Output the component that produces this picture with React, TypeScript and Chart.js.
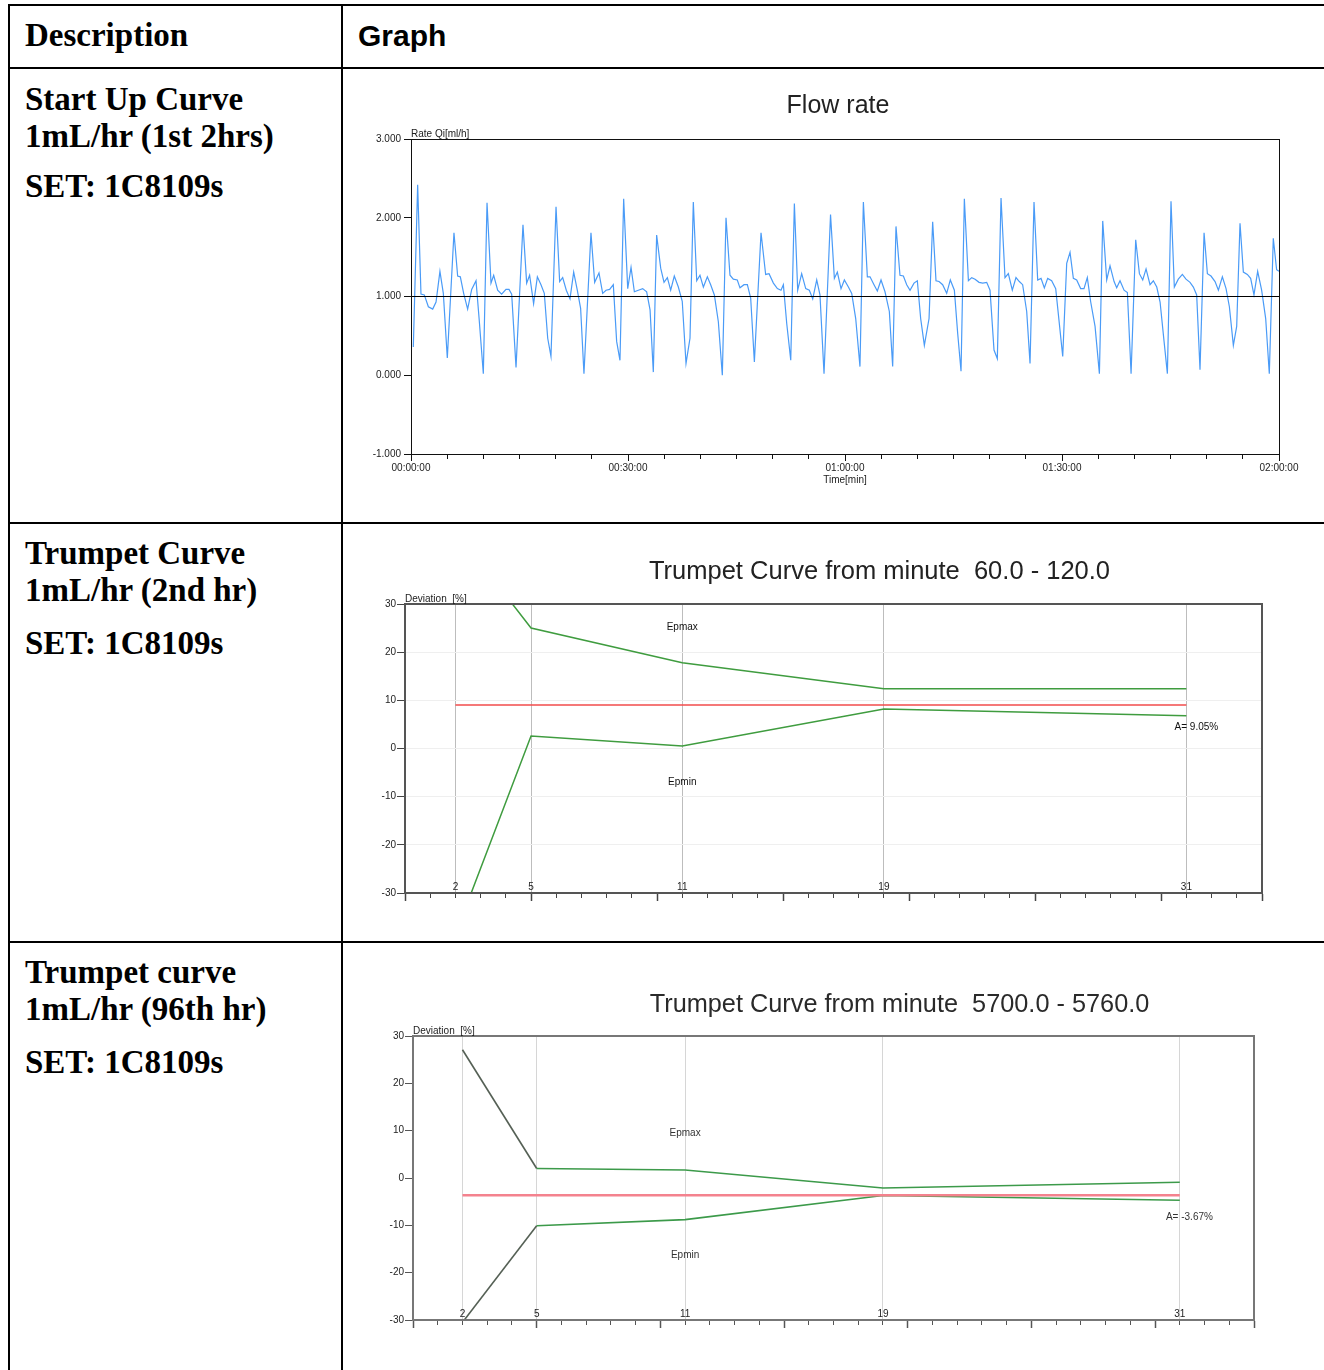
import React, { useEffect, useRef } from 'react';
import { Chart, registerables } from 'chart.js';

Chart.register(...registerables);

// ---------------- DATA ----------------
// Flow rate, first 2 hours (time in minutes, rate in ml/h)
const flowTimes = [
  0.32, 0.92, 1.38, 1.84, 2.4, 3.0, 3.46, 4.0, 4.47, 5.02, 5.94, 6.45, 6.82, 7.28, 7.83, 8.39, 8.99, 9.45,
  10.0, 10.51, 11.06, 11.43, 11.98, 12.53, 13.13, 13.55, 13.92, 14.52, 15.48, 15.99, 16.4, 16.95, 17.47, 17.97,
  18.43, 18.9, 19.35, 20.05, 20.55, 20.97, 21.47, 21.98, 22.49, 22.99, 23.45, 23.91, 24.88, 25.39, 25.99, 26.5,
  26.96, 27.46, 27.97, 28.43, 28.89, 29.4, 29.96, 30.42, 30.88, 31.43, 32.03, 32.58, 33.05, 33.5, 33.96, 34.52,
  34.98, 35.44, 35.9, 36.4, 36.96, 37.5, 38.02, 38.57, 39.03, 39.5, 39.95, 40.42, 40.97, 41.43, 41.94, 42.49,
  43.04, 43.55, 44.1, 44.56, 45.11, 45.48, 46.04, 46.5, 46.96, 47.47, 48.39, 49.03, 49.5, 50.1, 50.65, 51.15,
  51.48, 51.94, 52.5, 53.0, 53.46, 54.01, 54.57, 55.07, 55.54, 56.09, 56.54, 57.1, 58.0, 58.53, 58.94, 59.45,
  59.91, 60.47, 60.93, 61.48, 62.07, 62.54, 63.09, 63.46, 64.01, 64.47, 64.98, 65.53, 66.13, 66.59, 67.05, 67.6,
  68.07, 68.53, 68.99, 69.54, 70.0, 70.46, 70.97, 71.62, 72.12, 72.58, 73.0, 73.5, 74.06, 74.56, 75.12, 75.58,
  76.04, 76.5, 77.06, 77.52, 77.98, 78.53, 79.04, 79.59, 80.05, 80.6, 81.06, 81.57, 82.12, 82.58, 83.13, 83.64,
  84.1, 84.56, 85.12, 85.58, 86.13, 86.64, 87.1, 87.56, 88.02, 88.57, 89.13, 90.1, 90.65, 91.11, 91.57, 92.03,
  92.58, 93.04, 93.5, 93.97, 94.57, 95.17, 95.63, 96.18, 96.64, 97.2, 97.56, 98.02, 98.58, 99.04, 99.55, 100.19,
  100.7, 101.16, 101.62, 102.17, 102.63, 103.1, 103.56, 104.11, 104.57, 105.07, 105.53, 106.08, 106.64, 107.14,
  107.7, 108.16, 108.62, 109.08, 109.64, 110.1, 110.6, 111.16, 111.62, 112.17, 112.68, 113.14, 113.69, 114.15,
  114.61, 115.07, 115.62, 116.08, 116.54, 117.05, 117.6, 118.16, 118.66, 119.21, 119.67, 120.0,
];
const flowRates = [
  0.36, 2.42, 1.03, 1.02, 0.87, 0.84, 0.93, 1.32, 1.04, 0.22, 1.81, 1.26, 1.25, 1.04, 0.84, 1.09, 1.2, 0.68,
  0.02, 2.19, 1.17, 1.27, 1.08, 1.03, 1.09, 1.09, 1.03, 0.1, 1.91, 1.17, 1.27, 0.91, 1.25, 1.15,
  1.04, 0.47, 0.24, 2.14, 1.19, 1.24, 1.08, 0.97, 1.31, 1.08, 0.85, 0.02, 1.81, 1.18, 1.3, 1.04,
  1.08, 1.09, 1.15, 0.43, 0.19, 2.24, 1.1, 1.37, 1.06, 1.08, 1.1, 1.06, 0.83, 0.04, 1.78, 1.36,
  1.18, 1.24, 1.08, 1.26, 1.12, 0.94, 0.15, 0.47, 2.2, 1.2, 1.27, 1.12, 1.25, 1.15, 1.02, 0.68,
  0.0, 2.0, 1.27, 1.22, 1.21, 1.11, 1.15, 1.15, 0.98, 0.17, 1.81, 1.28, 1.29, 1.17, 1.1, 1.08,
  1.15, 0.66, 0.19, 2.18, 1.08, 1.29, 1.1, 1.08, 0.97, 1.21, 1.02, 0.02, 2.04, 1.23, 1.31, 1.1,
  1.21, 1.12, 1.04, 0.72, 0.11, 2.2, 1.25, 1.25, 1.15, 1.07, 1.21, 1.06, 0.81, 0.11, 1.89, 1.27,
  1.26, 1.15, 1.08, 1.17, 1.2, 0.72, 0.38, 0.72, 1.95, 1.2, 1.19, 1.15, 1.04, 1.21, 1.08, 0.53,
  0.05, 2.24, 1.2, 1.24, 1.22, 1.18, 1.17, 1.18, 1.08, 0.32, 0.21, 2.25, 1.24, 1.29, 1.08, 1.24,
  1.19, 1.15, 0.81, 0.15, 2.2, 1.21, 1.23, 1.11, 1.23, 1.2, 1.1, 0.24, 1.42, 1.56, 1.23, 1.21,
  1.1, 1.1, 1.24, 0.93, 0.62, 0.02, 1.96, 1.21, 1.39, 1.19, 1.11, 1.2, 1.08, 1.05, 0.02, 1.72,
  1.29, 1.21, 1.35, 1.15, 1.2, 1.12, 0.93, 0.43, 0.02, 2.21, 1.12, 1.22, 1.28, 1.22,
  1.18, 1.12, 1.02, 0.07, 1.81, 1.29, 1.26, 1.19, 1.08, 1.25, 1.1, 0.87, 0.38, 0.62,
  1.93, 1.31, 1.28, 1.23, 1.02, 1.32, 1.08, 0.72, 0.02, 1.74, 1.34, 1.32,
];
const setRate = 1.0;
const flowTimeTicks = [0, 30, 60, 90, 120];
const flowRateTicks = [-1, 0, 1, 2, 3];

// Trumpet curves: observation windows (min) and deviation (%)
const trumpetWindows = [2, 5, 11, 19, 31];
const trumpet1EpMax = [45.3, 25.0, 17.8, 12.4, 12.4];
const trumpet1EpMin = [-38.6, 2.6, 0.5, 8.2, 6.8];
const trumpet1Mean = 9.05;
const trumpet2EpMax = [27.1, 2.0, 1.7, -2.1, -0.9];
const trumpet2EpMin = [-30.5, -10.1, -8.8, -3.7, -4.7];
const trumpet2Mean = -3.67;
const deviationTicks = [-30, -20, -10, 0, 10, 20, 30];

// ---------------- HELPERS ----------------
const SANS = "'Liberation Sans', Arial, sans-serif";
const SERIF = "'Liberation Serif', 'Times New Roman', serif";

const hms = (m: number) => {
  const h = Math.floor(m / 60);
  const mm = Math.round(m % 60);
  const p = (n: number) => String(n).padStart(2, '0');
  return `${p(h)}:${p(mm)}:00`;
};

const overlayPlugin = {
  id: 'overlay',
  afterDraw(chart: any, _args: any, opts: any) {
    const { ctx, chartArea: a, scales } = chart;
    ctx.save();
    if (opts.frame) {
      ctx.strokeStyle = opts.frame.color;
      ctx.lineWidth = opts.frame.width;
      const o = opts.frame.width % 2 ? 0.5 : 0;
      ctx.strokeRect(Math.round(a.left) + o, Math.round(a.top) + o, Math.round(a.right - a.left), Math.round(a.bottom - a.top));
    }
    if (opts.title) {
      ctx.font = `${opts.title.size}px ${SANS}`;
      ctx.fillStyle = opts.title.color;
      ctx.textAlign = 'center';
      ctx.textBaseline = 'alphabetic';
      ctx.fillText(opts.title.text, opts.title.x, opts.title.y);
    }
    if (opts.caption) {
      ctx.font = `10px ${SANS}`;
      ctx.fillStyle = opts.caption.color;
      ctx.textAlign = 'left';
      ctx.textBaseline = 'alphabetic';
      ctx.fillText(opts.caption.text, a.left, a.top - 2);
    }
    if (opts.windowLabels) {
      ctx.font = `10px ${SANS}`;
      ctx.fillStyle = opts.windowLabels.color;
      ctx.textAlign = 'center';
      ctx.textBaseline = 'middle';
      trumpetWindows.forEach((w) => {
        ctx.fillText(String(w), scales.x.getPixelForValue(w), a.bottom - 6);
      });
    }
    (opts.notes || []).forEach((n: any) => {
      ctx.font = `10px ${SANS}`;
      ctx.fillStyle = n.color || '#111';
      ctx.textAlign = n.align || 'center';
      ctx.textBaseline = 'middle';
      ctx.fillText(n.text, scales.x.getPixelForValue(n.x), scales.y.getPixelForValue(n.y));
    });
    ctx.restore();
  },
};

function trumpetConfig(p: any) {
  const pts = (vals: number[]) => trumpetWindows.map((w, i) => ({ x: w, y: vals[i] }));
  const first = trumpetWindows[0];
  const last = trumpetWindows[trumpetWindows.length - 1];
  const seg = p.firstSegColor ? { borderColor: (c: any) => (c.p0DataIndex === 0 ? p.firstSegColor : undefined) } : undefined;
  return {
    type: 'line',
    data: {
      datasets: [
        {
          label: 'A',
          xAxisID: 'x',
          data: [{ x: first, y: p.mean }, { x: last, y: p.mean }],
          borderColor: p.red,
          borderWidth: p.redWidth,
          pointRadius: 0,
        },
        {
          label: 'Epmax',
          xAxisID: 'x',
          data: pts(p.max),
          borderColor: p.green,
          borderWidth: p.greenWidth,
          pointRadius: 0,
          segment: seg,
        },
        {
          label: 'Epmin',
          xAxisID: 'x',
          data: pts(p.min),
          borderColor: p.green,
          borderWidth: p.greenWidth,
          pointRadius: 0,
          segment: seg,
        },
      ],
    },
    options: {
      responsive: false,
      animation: false,
      events: [],
      layout: { padding: { left: 0, right: p.padRight, top: p.padTop, bottom: 0 } },
      plugins: {
        legend: { display: false },
        tooltip: { enabled: false },
        overlay: {
          frame: { color: p.frameColor, width: 2 },
          title: p.title,
          caption: { text: 'Deviation  [%]', color: '#222' },
          windowLabels: { color: '#222' },
          notes: p.notes,
        },
      },
      scales: {
        x: {
          type: 'linear',
          position: 'bottom',
          weight: 0,
          min: 0,
          max: 34,
          afterBuildTicks: (s: any) => {
            s.ticks = trumpetWindows.map((v) => ({ value: v }));
          },
          ticks: { display: false, autoSkip: false },
          grid: { drawOnChartArea: true, drawTicks: false, color: p.vGrid, lineWidth: 1 },
          border: { display: false },
          afterFit: (s: any) => { s.height = 0; },
        },
        xm: {
          type: 'linear',
          position: 'bottom',
          weight: 1,
          min: 0,
          max: 34,
          ticks: { display: false, stepSize: 1, autoSkip: false },
          grid: { drawOnChartArea: false, tickLength: 5, tickColor: p.axisColor, tickWidth: 1 },
          border: { display: true, color: p.axisColor, width: 2 },
          afterFit: (s: any) => { s.height = 0; },
        },
        xM: {
          type: 'linear',
          position: 'bottom',
          weight: 2,
          min: 0,
          max: 34,
          ticks: { display: false, stepSize: 5, autoSkip: false },
          grid: { drawOnChartArea: false, tickLength: 8, tickColor: p.axisColor, tickWidth: 1.5 },
          border: { display: true, color: p.axisColor, width: 2 },
          afterFit: (s: any) => { s.height = p.xHeight; },
        },
        y: {
          min: deviationTicks[0],
          max: deviationTicks[deviationTicks.length - 1],
          afterBuildTicks: (s: any) => {
            s.ticks = deviationTicks.map((v) => ({ value: v }));
          },
          ticks: { font: { family: SANS, size: 10 }, color: '#222', padding: 1 },
          grid: { drawOnChartArea: p.hGrid !== null, color: p.hGrid || 'transparent', tickLength: 8, tickColor: p.axisColor },
          border: { display: true, color: p.axisColor, width: 2 },
          afterFit: (s: any) => { s.width = p.yWidth; },
        },
      },
    },
    plugins: [overlayPlugin],
  };
}

function flowConfig() {
  return {
    type: 'line',
    data: {
      datasets: [
        {
          label: 'Set rate',
          xAxisID: 'x',
          data: [{ x: flowTimeTicks[0], y: setRate }, { x: flowTimeTicks[flowTimeTicks.length - 1], y: setRate }],
          borderColor: '#000',
          borderWidth: 1.2,
          pointRadius: 0,
        },
        {
          label: 'Rate Qi',
          xAxisID: 'x',
          data: flowTimes.map((t, i) => ({ x: t, y: flowRates[i] })),
          borderColor: '#4a9bf7',
          borderWidth: 1.2,
          pointRadius: 0,
          tension: 0,
        },
      ],
    },
    options: {
      responsive: false,
      animation: false,
      events: [],
      layout: { padding: { left: 0, right: 45, top: 69, bottom: 0 } },
      plugins: {
        legend: { display: false },
        tooltip: { enabled: false },
        overlay: {
          frame: { color: '#111', width: 1 },
          title: { text: 'Flow rate', x: 495, y: 43, size: 25, color: '#222' },
          caption: { text: 'Rate Qi[ml/h]', color: '#222' },
        },
      },
      scales: {
        x: {
          type: 'linear',
          position: 'bottom',
          weight: 1,
          min: flowTimeTicks[0],
          max: flowTimeTicks[flowTimeTicks.length - 1],
          afterBuildTicks: (s: any) => {
            s.ticks = flowTimeTicks.map((v) => ({ value: v }));
          },
          ticks: { autoSkip: false, maxRotation: 0, font: { family: SANS, size: 10 }, color: '#222', padding: 1, callback: (v: any) => hms(Number(v)) },
          grid: { drawOnChartArea: false, tickLength: 7, tickColor: '#111' },
          border: { display: true, color: '#111' },
          title: { display: true, text: 'Time[min]', font: { family: SANS, size: 10 }, color: '#222', padding: { top: 0, bottom: 36 } },
          afterFit: (s: any) => { s.height = 68; },
        },
        xm: {
          type: 'linear',
          position: 'bottom',
          weight: 0,
          min: 0,
          max: 120,
          ticks: { display: false, stepSize: 5, autoSkip: false },
          grid: { drawOnChartArea: false, tickLength: 5, tickColor: '#111' },
          border: { display: true, color: '#111' },
          afterFit: (s: any) => { s.height = 0; },
        },
        y: {
          min: flowRateTicks[0],
          max: flowRateTicks[flowRateTicks.length - 1],
          afterBuildTicks: (s: any) => {
            s.ticks = flowRateTicks.map((v) => ({ value: v }));
          },
          ticks: { font: { family: SANS, size: 10 }, color: '#222', padding: 3, callback: (v: any) => Number(v).toFixed(3) },
          grid: { drawOnChartArea: false, tickLength: 7, tickColor: '#111' },
          border: { display: true, color: '#111' },
          afterFit: (s: any) => { s.width = 68; },
        },
      },
    },
    plugins: [overlayPlugin],
  };
}

function ChartBox({ left, top, width, height, build }: any) {
  const ref = useRef<HTMLCanvasElement | null>(null);
  useEffect(() => {
    if (!ref.current) return;
    const chart = new Chart(ref.current, build());
    return () => chart.destroy();
  }, []);
  return (
    <canvas
      ref={ref}
      width={width}
      height={height}
      style={{ position: 'absolute', left, top, width, height, display: 'block' }}
    />
  );
}

const cellText = (text: string, top: number, key: string) => (
  <div
    key={key}
    style={{
      position: 'absolute',
      left: 25,
      top,
      fontFamily: SERIF,
      fontWeight: 'bold',
      fontSize: 33,
      lineHeight: '33px',
      color: '#000',
      whiteSpace: 'nowrap',
    }}
  >
    {text}
  </div>
);

const hLine = (top: number, key: string) => (
  <div key={key} style={{ position: 'absolute', left: 8, top, width: 1316, height: 2, background: '#000' }} />
);

export default function App() {
  return (
    <div style={{ position: 'absolute', left: 0, top: 0, width: 1324, height: 1370, overflow: 'hidden', background: '#fff' }}>
      {hLine(4, 'h0')}
      {hLine(67, 'h1')}
      {hLine(522, 'h2')}
      {hLine(941, 'h3')}
      <div style={{ position: 'absolute', left: 8, top: 4, width: 2, height: 1366, background: '#000' }} />
      <div style={{ position: 'absolute', left: 341, top: 4, width: 2, height: 1366, background: '#000' }} />

      {cellText('Description', 19, 'd0')}
      <div
        style={{
          position: 'absolute',
          left: 358,
          top: 21,
          fontFamily: SANS,
          fontWeight: 'bold',
          fontSize: 30,
          lineHeight: '30px',
          color: '#000',
        }}
      >
        Graph
      </div>

      {cellText('Start Up Curve', 83, 'r1a')}
      {cellText('1mL/hr (1st 2hrs)', 120, 'r1b')}
      {cellText('SET: 1C8109s', 170, 'r1c')}

      {cellText('Trumpet Curve', 537, 'r2a')}
      {cellText('1mL/hr (2nd hr)', 574, 'r2b')}
      {cellText('SET: 1C8109s', 627, 'r2c')}

      {cellText('Trumpet curve', 956, 'r3a')}
      {cellText('1mL/hr (96th hr)', 993, 'r3b')}
      {cellText('SET: 1C8109s', 1046, 'r3c')}

      <ChartBox left={343} top={70} width={981} height={452} build={flowConfig} />
      <ChartBox
        left={343}
        top={525}
        width={981}
        height={416}
        build={() =>
          trumpetConfig({
            max: trumpet1EpMax,
            min: trumpet1EpMin,
            mean: trumpet1Mean,
            red: '#f24b4b',
            redWidth: 1.5,
            green: '#3f9c3f',
            greenWidth: 1.5,
            padRight: 62,
            padTop: 79,
            yWidth: 62,
            xHeight: 48,
            frameColor: '#555',
            axisColor: '#444',
            vGrid: '#bdbdbd',
            hGrid: '#efefef',
            title: { text: 'Trumpet Curve from minute  60.0 - 120.0', x: 536.5, y: 54, size: 25.5, color: '#222' },
            notes: [
              { text: 'Epmax', x: 11, y: 25.2 },
              { text: 'Epmin', x: 11, y: -7.1 },
              { text: 'A= 9.05%', x: 30.53, y: 4.5, align: 'left' },
            ],
          })
        }
      />
      <ChartBox
        left={343}
        top={944}
        width={981}
        height={426}
        build={() =>
          trumpetConfig({
            max: trumpet2EpMax,
            min: trumpet2EpMin,
            mean: trumpet2Mean,
            red: '#f4828e',
            redWidth: 2.5,
            green: '#3c9a4a',
            greenWidth: 1.6,
            firstSegColor: '#556055',
            padRight: 70,
            padTop: 92,
            yWidth: 70,
            xHeight: 50,
            frameColor: '#777',
            axisColor: '#555',
            vGrid: '#d6d6d6',
            hGrid: null,
            title: { text: 'Trumpet Curve from minute  5700.0 - 5760.0', x: 556.5, y: 68, size: 25.3, color: '#2a2a2a' },
            notes: [
              { text: 'Epmax', x: 11, y: 9.4, color: '#333' },
              { text: 'Epmin', x: 11, y: -16.4, color: '#333' },
              { text: 'A= -3.67%', x: 30.44, y: -8.2, align: 'left', color: '#333' },
            ],
          })
        }
      />
    </div>
  );
}
